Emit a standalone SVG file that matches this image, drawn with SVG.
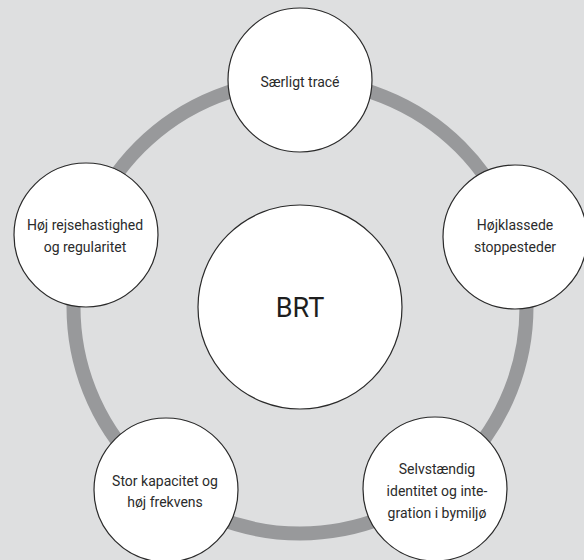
<svg xmlns="http://www.w3.org/2000/svg" width="584" height="560" viewBox="0 0 584 560">
<style>
.node{fill:#ffffff;stroke:#2a2a2a;stroke-width:1.2}
.lbl{font-family:Roboto,"Liberation Sans",sans-serif;font-size:14px;fill:#2b2b2b;text-anchor:middle}
.big{font-family:Roboto,"Liberation Sans",sans-serif;font-size:27px;fill:#1e1e1e;text-anchor:middle}
</style>
<rect width="584" height="560" fill="#dedfe0"/>
<g id="connectors">
<circle cx="300" cy="307" r="226.5" fill="none" stroke="#98999b" stroke-width="14"/>
</g>
<g id="center">
<circle class="node" cx="300" cy="307" r="102"/>
<text class="big" x="300" y="317">BRT</text>
</g>
<g id="top">
<circle class="node" cx="300" cy="80" r="72"/>
<text class="lbl" x="300" y="87">Særligt tracé</text>
</g>
<g id="right">
<circle class="node" cx="515" cy="237" r="72"/>
<text class="lbl" x="515" y="230">Højklassede</text>
<text class="lbl" x="515" y="252">stoppesteder</text>
</g>
<g id="bottom-right">
<circle class="node" cx="435" cy="489" r="72"/>
<text class="lbl" x="437" y="474">Selvstændig</text>
<text class="lbl" x="437" y="496">identitet og inte-</text>
<text class="lbl" x="437" y="518">gration i bymiljø</text>
</g>
<g id="bottom-left">
<circle class="node" cx="166" cy="490" r="72"/>
<text class="lbl" x="165" y="486">Stor kapacitet og</text>
<text class="lbl" x="165" y="507">høj frekvens</text>
</g>
<g id="left">
<circle class="node" cx="86" cy="235" r="72"/>
<text class="lbl" x="85" y="230">Høj rejsehastighed</text>
<text class="lbl" x="85" y="252">og regularitet</text>
</g>
</svg>
